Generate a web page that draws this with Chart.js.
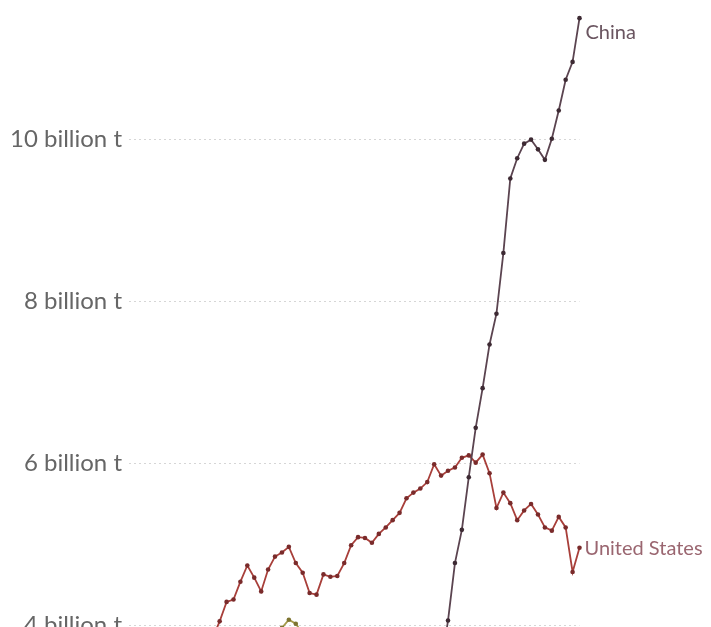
<!DOCTYPE html>
<html>
<head>
<meta charset="utf-8">
<script src="https://cdn.jsdelivr.net/npm/chart.js@4"></script>
<style>
    html, body { margin: 0; padding: 0; background: #fff; overflow: hidden; }
    #caja { width: 711px; height: 680px; }
</style>
</head>
<body>
<div id="caja"><canvas id="Grafico" width="711" height="680"></canvas></div>
<script>
// valores (miles de millones de toneladas)
const anios_china = [2001, 2002, 2003, 2004, 2005, 2006, 2007, 2008, 2009, 2010, 2011,
    2012, 2013, 2014, 2015, 2016, 2017, 2018, 2019, 2020, 2021];
const valores_china = [3.5, 4.06, 4.77, 5.18, 5.83, 6.44, 6.93, 7.47, 7.85, 8.6, 9.52,
    9.77, 9.95, 10.0, 9.88, 9.75, 10.01, 10.36, 10.74, 10.96, 11.5];

const anios_usa = [1968, 1969, 1970, 1971, 1972, 1973, 1974, 1975, 1976, 1977, 1978, 1979,
    1980, 1981, 1982, 1983, 1984, 1985, 1986, 1987, 1988, 1989, 1990, 1991, 1992, 1993,
    1994, 1995, 1996, 1997, 1998, 1999, 2000, 2001, 2002, 2003, 2004, 2005, 2006, 2007,
    2008, 2009, 2010, 2011, 2012, 2013, 2014, 2015, 2016, 2017, 2018, 2019, 2020, 2021];
const valores_usa = [3.85, 4.05, 4.29, 4.32, 4.54, 4.74, 4.59, 4.42, 4.69, 4.85, 4.9, 4.97,
    4.77, 4.65, 4.4, 4.38, 4.63, 4.6, 4.61, 4.77, 4.99, 5.09, 5.08, 5.02, 5.13, 5.21,
    5.3, 5.39, 5.57, 5.64, 5.69, 5.77, 5.99, 5.85, 5.91, 5.95, 6.07, 6.1, 6.01, 6.11,
    5.88, 5.45, 5.64, 5.51, 5.3, 5.42, 5.5, 5.37, 5.21, 5.17, 5.34, 5.21, 4.66, 4.96];

// tercera serie, solo asoma por abajo
const anios_otro = [1977, 1978, 1979, 1980, 1981, 1982];
const valores_otro = [3.9, 3.97, 4.07, 4.02, 3.9, 3.8];

const marcas_y = [4, 6, 8, 10];
const nombres = ['China', 'United States'];

function armarPuntos(anios, valores){
    const puntos = [];
    for(let i = 0; i < anios.length; i++){
        puntos.push({x: anios[i], y: valores[i]});
    }
    return puntos;
}

const etiquetasFinales = {
    id: 'etiquetasFinales',
    afterDatasetsDraw(chart){
        const ctx = chart.ctx;
        ctx.save();
        ctx.font = '20px Lato';
        ctx.textAlign = 'left';
        ctx.textBaseline = 'middle';
        const ajustes = [
            {dx: 6, dy: 14, color: '#6a5560'},
            {dx: 5, dy: 1, color: '#9a6670'}
        ];
        for(let i = 0; i < nombres.length; i++){
            const meta = chart.getDatasetMeta(i);
            const ultimo = meta.data[meta.data.length - 1];
            ctx.fillStyle = ajustes[i].color;
            ctx.fillText(nombres[i], ultimo.x + ajustes[i].dx, ultimo.y + ajustes[i].dy);
        }
        ctx.restore();
    }
};

const ctx = document.getElementById('Grafico');

new Chart(ctx, {
    type: 'line',
    data: {
        datasets: [{
            label: nombres[0],
            data: armarPuntos(anios_china, valores_china),
            borderColor: '#5b4450',
            backgroundColor: '#3d2a33',
            pointBackgroundColor: '#3d2a33',
            pointBorderWidth: 0,
            pointRadius: 2.3,
            borderWidth: 1.8,
            clip: {left: 5, top: 20, right: 10, bottom: 0},
        }, {
            label: nombres[1],
            data: armarPuntos(anios_usa, valores_usa),
            borderColor: '#a83f3a',
            backgroundColor: '#7a2b2b',
            pointBackgroundColor: '#7a2b2b',
            pointBorderWidth: 0,
            pointRadius: 2.3,
            borderWidth: 1.8,
            clip: {left: 5, top: 20, right: 10, bottom: 0},
        }, {
            label: 'otro',
            data: armarPuntos(anios_otro, valores_otro),
            borderColor: '#a59a4a',
            backgroundColor: '#7d7430',
            pointBackgroundColor: '#7d7430',
            pointBorderWidth: 0,
            pointRadius: 2.3,
            borderWidth: 1.8,
            clip: {left: 5, top: 20, right: 10, bottom: 0},
        }]
    },
    options: {
        responsive: false,
        animation: false,
        layout: { padding: {left: 10, top: 7, right: 131.5, bottom: 13} },
        plugins: {
            legend: { display: false },
            tooltip: { enabled: false },
        },
        scales: {
            x: {
                type: 'linear',
                min: 1955.9,
                max: 2021,
                display: false,
            },
            y: {
                min: 3.59,
                max: 11.46,
                afterBuildTicks: (eje) => {
                    eje.ticks = marcas_y.map((v) => ({value: v}));
                },
                afterFit: (eje) => {
                    eje.width = 119;
                },
                border: { display: false, dash: [2, 3] },
                grid: { color: '#d6d6d6', lineWidth: 1, drawTicks: false },
                ticks: {
                    padding: 7,
                    color: '#666666',
                    font: { family: 'Lato', size: 24 },
                    callback: (v) => v + ' billion t',
                },
            }
        }
    },
    plugins: [etiquetasFinales],
});
</script>
</body>
</html>
